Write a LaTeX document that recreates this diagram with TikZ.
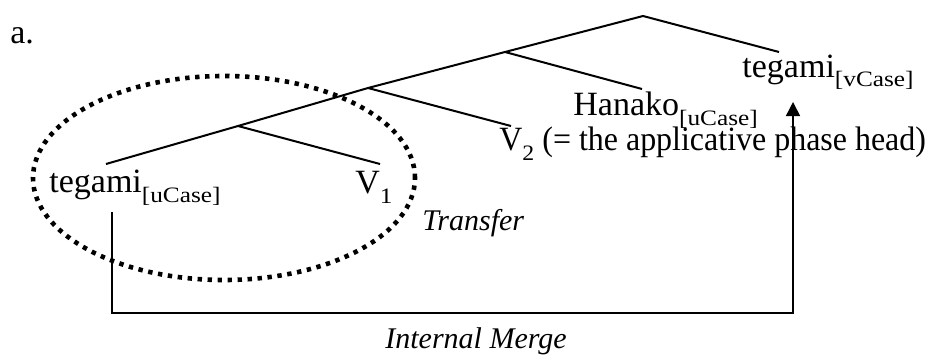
\documentclass[tikz,border=0pt]{standalone}
\usepackage{fontspec}
\setmainfont{Liberation Serif}
\newfontfamily\subfont[FakeStretch=1.15]{Liberation Serif}
\usepackage{tikz}
\usetikzlibrary{arrows.meta}

\newcommand{\fsub}[1]{\raisebox{-5pt}{\subfont\fontsize{11}{13}\selectfont #1}}

\begin{document}
\begin{tikzpicture}[
  x=0.5pt,y=-0.5pt,
  font=\fontsize{17}{20}\selectfont,
  lbl/.style={anchor=base west,inner sep=0pt},
  op/.style={lbl,font=\fontsize{15}{18}\selectfont\itshape},
  branch/.style={line width=1pt},
  move/.style={line width=0.75pt,-{Triangle[length=7pt,width=7pt]}},
  phase/.style={line width=2.3pt,dash pattern=on 2.2pt off 2.8pt}
]
\useasboundingbox (0,0) rectangle (929,358);

\node[lbl] (ex) at (10,44) {a.};

% branching points
\coordinate (top) at (643,16);
\coordinate (n1)  at (505,52);
\coordinate (n2)  at (368,88);
\coordinate (n3)  at (238,126);
\coordinate (tvEnd) at (779,52);
\coordinate (hEnd)  at (642,89);
\coordinate (v2End) at (511,126);
\coordinate (v1End) at (380,164);
\coordinate (tuEnd) at (106,164);

\node[lbl] (tv) at (742,77)  {tegami\fsub{[vCase]}};
\node[lbl] (ha) at (573,115) {Hanako\fsub{[uCase]}};
\node[lbl] (v2) at (499,150) {\scalebox{0.94}[1]{V\fsub{2} (= the applicative phase head)}};
\node[lbl] (tu) at (49,192)  {tegami\fsub{[uCase]}};
\node[lbl] (v1) at (355,193) {V\fsub{1}};

\draw[branch] (top) -- (tvEnd);
\draw[branch] (top) -- (n1) -- (n2) -- (n3) -- (tuEnd);
\draw[branch] (n1) -- (hEnd);
\draw[branch] (n2) -- (v2End);
\draw[branch] (n3) -- (v1End);

% transfer domain
\coordinate (dom) at (224,178);
\draw[phase] (dom) ellipse [x radius=95.5pt,y radius=51pt];
\node[op] (tr) at (422,230) {Transfer};

% movement
\coordinate (mfoot) at (112,212);
\coordinate (mtip)  at (793,102);
\draw[move] (mfoot) -- (mfoot |- 0,313) -| (mtip);
\node[op] (im) at (385,348) {Internal Merge};
\end{tikzpicture}
\end{document}
